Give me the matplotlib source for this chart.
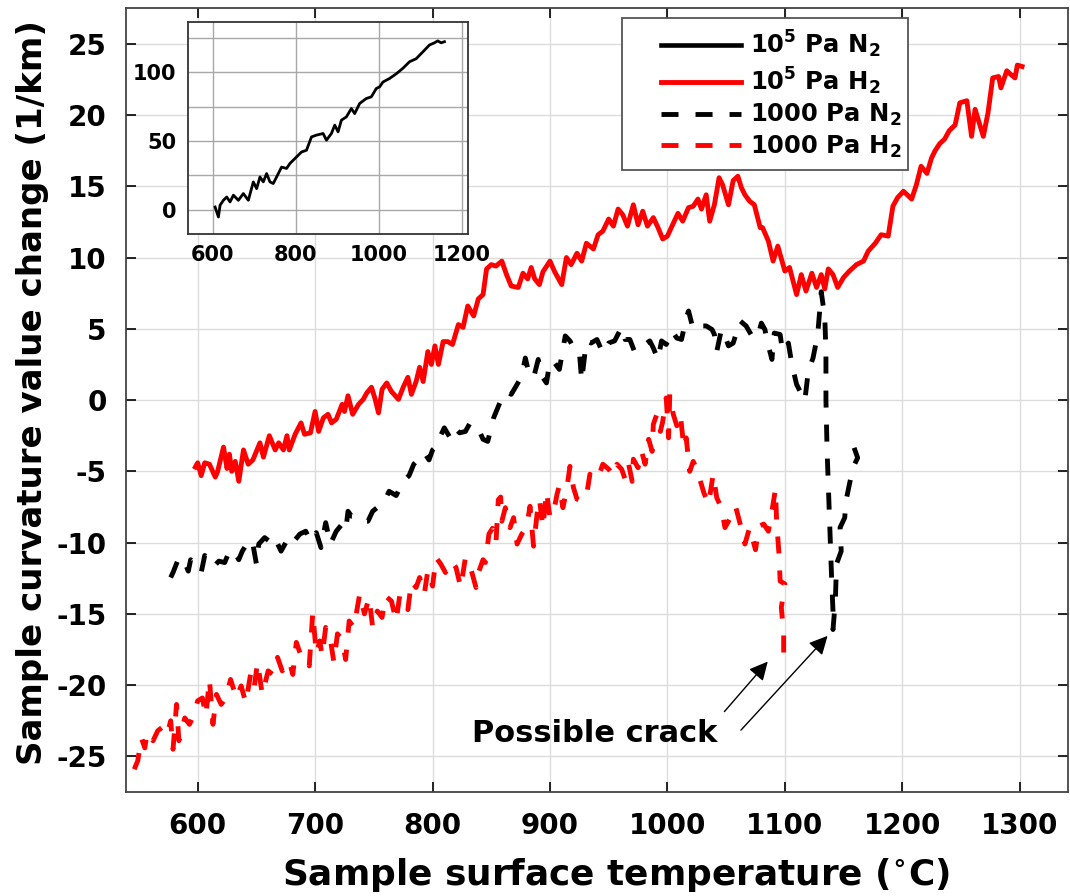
import numpy as np
import matplotlib.pyplot as plt
from matplotlib.patches import Rectangle

plt.rcParams['font.family'] = ['DejaVu Sans']
plt.rcParams['font.weight'] = 'bold'
plt.rcParams['axes.labelweight'] = 'bold'
plt.rcParams['mathtext.default'] = 'bf'
plt.rcParams['axes.unicode_minus'] = False

# 10^5 Pa H2 (solid red)
x_h2_hi = [598, 600, 603, 606, 610, 615, 617, 622, 625, 627,
           629, 632, 635, 639, 643, 647, 653, 656, 661, 666,
           669, 673, 676, 678, 683, 688, 691, 696, 700, 703,
           707, 711, 714, 718, 723, 725, 728, 732, 737, 741,
           744, 748, 751, 754, 757, 761, 765, 771, 775, 779,
           782, 786, 789, 792, 796, 799, 802, 805, 809, 813,
           817, 822, 826, 830, 835, 839, 843, 846, 850, 854,
           859, 863, 867, 873, 877, 881, 884, 887, 891, 894,
           900, 904, 910, 914, 918, 923, 927, 931, 937, 941,
           945, 950, 954, 958, 962, 966, 971, 975, 979, 983,
           988, 992, 996, 1000, 1005, 1009, 1013, 1018, 1022, 1026,
           1029, 1033, 1036, 1040, 1044, 1047, 1052, 1056, 1060, 1063,
           1066, 1070, 1074, 1079, 1081, 1086, 1090, 1094, 1100, 1104,
           1110, 1114, 1118, 1123, 1127, 1131, 1134, 1137, 1141, 1145,
           1150, 1155, 1161, 1167, 1171, 1177, 1182, 1188, 1192, 1196,
           1201, 1208, 1212, 1216, 1221, 1225, 1228, 1232, 1236, 1240,
           1245, 1249, 1255, 1259, 1262, 1266, 1269, 1273, 1277, 1282,
           1284, 1289, 1293, 1296, 1298, 1302]
y_h2_hi = [-4.7, -4.4, -5.3, -4.4, -4.5, -5.4, -5.0, -3.3, -4.8, -3.8,
           -5.0, -4.3, -5.7, -3.5, -4.5, -4.2, -3.0, -4.0, -2.5, -3.5,
           -3.0, -3.5, -2.5, -3.5, -2.4, -1.6, -2.4, -2.3, -0.8, -2.2,
           -1.25, -1.0, -1.6, -1.35, -0.3, -0.8, 0.3, -1.0, -0.3, 0.05,
           0.5, 0.9, 0.1, -0.9, 0.75, 1.2, 0.6, 0.05, 0.9, 1.6,
           0.4, 1.3, 2.3, 1.3, 3.4, 2.5, 3.8, 2.5, 4.1, 4.1,
           3.9, 5.3, 5.1, 6.6, 5.9, 7.1, 7.4, 9.2, 9.5, 9.4,
           9.75, 8.8, 8.0, 7.9, 8.9, 8.5, 9.3, 8.5, 8.1, 9.0,
           9.75, 9.0, 8.1, 10.0, 9.5, 10.3, 9.75, 11.0, 10.6, 11.6,
           11.85, 12.7, 12.2, 13.4, 13.0, 12.2, 13.7, 12.3, 13.25, 12.2,
           12.8, 12.1, 11.3, 11.5, 12.4, 13.1, 12.55, 13.5, 13.6, 14.1,
           13.4, 14.4, 12.55, 13.7, 15.6, 15.1, 13.7, 15.4, 15.7, 14.9,
           14.4, 13.95, 13.7, 12.1, 12.1, 11.15, 9.75, 10.8, 9.05, 9.3,
           7.4, 8.8, 7.65, 8.9, 7.9, 8.8, 7.8, 9.2, 8.8, 7.9,
           8.6, 9.05, 9.5, 9.75, 10.45, 11.0, 11.6, 11.5, 13.6, 14.2,
           14.65, 14.1, 15.1, 16.4, 15.9, 17.0, 17.5, 18.0, 18.3, 18.9,
           19.3, 20.85, 21.0, 18.5, 20.4, 19.3, 18.5, 20.15, 22.6, 22.7,
           21.9, 23.1, 22.8, 22.6, 23.5, 23.4]

# 1000 Pa N2 (dashed black)
x_n2_lo = [577, 579, 584, 589, 592, 594, 599, 603, 606, 610,
           614, 618, 623, 626, 630, 635, 638, 644, 647, 650,
           652, 657, 661, 665, 671, 675, 679, 682, 687, 692,
           696, 701, 705, 709, 713, 718, 722, 726, 728, 731,
           735, 740, 745, 749, 755, 759, 763, 769, 775, 780,
           784, 789, 793, 797, 800, 804, 806, 810, 815, 819,
           823, 828, 832, 836, 840, 843, 847, 852, 855, 859,
           863, 867, 872, 876, 879, 881, 886, 890, 893, 897,
           900, 904, 908, 913, 917, 921, 925, 927, 931, 935,
           940, 945, 950, 955, 961, 964, 968, 972, 977, 981,
           985, 988, 992, 995, 999, 1004, 1008, 1012, 1016, 1018,
           1022, 1028, 1033, 1038, 1040, 1042, 1046, 1049, 1052, 1056,
           1062, 1067, 1073, 1077, 1080, 1083, 1086, 1089, 1091, 1096,
           1098, 1103, 1106, 1110, 1113, 1117, 1120, 1124, 1128, 1131,
           1134, 1135, 1135, 1136, 1137, 1138, 1139, 1140, 1141, 1141,
           1143, 1144, 1148, 1147, 1151, 1152, 1155, 1158, 1162, 1159]
y_n2_lo = [-12.45, -12.1, -11.05, -11.4, -12.0, -11.2, -11.65, -12.1, -10.9, -11.5,
           -11.65, -11.3, -11.4, -10.8, -10.5, -11.2, -10.6, -9.8, -10.1, -11.5,
           -10.1, -9.65, -9.9, -9.55, -10.6, -10.0, -10.35, -9.9, -9.4, -9.2,
           -9.9, -9.3, -10.35, -8.6, -10.1, -9.2, -8.8, -9.2, -7.8, -8.15,
           -8.15, -8.5, -8.5, -7.8, -7.4, -7.1, -6.4, -6.7, -5.7, -5.3,
           -4.5, -4.05, -3.7, -4.2, -3.5, -3.2, -2.65, -1.95, -2.65, -1.95,
           -2.3, -2.2, -1.6, -1.95, -2.2, -2.75, -2.9, -1.25, -0.65, 0.15,
           0.6, 0.4, 1.1, 1.7, 2.95, 2.25, 1.55, 2.85, 1.7, 1.2,
           2.75, 2.6, 2.15, 4.5, 4.15, 3.55, 3.4, 1.35, 4.15, 4.0,
           4.25, 3.3, 4.0, 4.15, 5.1, 4.25, 4.25, 3.4, 3.8, 3.9,
           4.15, 3.65, 2.85, 4.15, 3.9, 4.85, 4.35, 4.25, 5.75, 6.25,
           4.95, 5.2, 5.2, 4.95, 4.6, 3.4, 4.95, 4.5, 3.8, 4.0,
           5.55, 5.2, 4.35, 4.5, 5.4, 4.95, 3.8, 2.85, 4.7, 4.6,
           3.4, 4.0, 2.5, 1.1, 0.6, -0.05, 2.05, 2.95, 4.6, 7.6,
           5.8, 3.4, -0.05, -3.6, -5.9, -8.25, -10.6, -12.9, -14.8, -16.1,
           -14.1, -11.5, -10.6, -8.95, -8.25, -7.1, -5.9, -4.75, -4.05, -3.35]

# 1000 Pa H2 (dashed red)
x_h2_lo = [546, 549, 552, 555, 557, 562, 566, 570, 574, 577,
           579, 582, 584, 589, 593, 597, 600, 604, 607, 610,
           613, 616, 620, 624, 628, 633, 637, 641, 645, 648,
           651, 655, 660, 664, 668, 672, 678, 681, 684, 688,
           692, 695, 698, 701, 704, 706, 709, 713, 716, 719,
           723, 726, 729, 733, 738, 742, 746, 749, 753, 757,
           760, 765, 769, 772, 776, 779, 782, 786, 789, 793,
           796, 800, 803, 807, 811, 816, 820, 824, 828, 833,
           837, 838, 843, 845, 848, 851, 854, 856, 858, 859,
           862, 866, 869, 872, 876, 880, 883, 886, 889, 891,
           894, 897, 900, 903, 906, 908, 911, 914, 917, 920,
           923, 927, 931, 934, 937, 941, 945, 950, 954, 957,
           961, 964, 967, 970, 971, 975, 978, 981, 984, 987,
           988, 991, 994, 996, 999, 1001, 1002, 1005, 1008, 1011,
           1014, 1016, 1019, 1022, 1026, 1031, 1035, 1039, 1042, 1046,
           1049, 1053, 1058, 1062, 1066, 1070, 1075, 1078, 1082, 1086,
           1089, 1092, 1093, 1095, 1096, 1100, 1097, 1099, 1099]
y_h2_lo = [-25.9, -25.3, -23.7, -24.4, -23.3, -23.9, -23.2, -22.95, -23.45, -22.5,
           -24.5, -21.35, -23.9, -22.3, -22.75, -22.05, -21.1, -20.9, -22.15, -19.6,
           -22.75, -20.65, -21.35, -20.9, -19.6, -20.9, -20.05, -21.25, -19.25, -20.2,
           -18.4, -20.65, -19.0, -19.25, -18.05, -19.0, -18.3, -19.25, -17.0, -17.95,
           -18.05, -18.65, -14.9, -17.8, -16.9, -17.95, -15.95, -16.8, -18.4, -16.4,
           -16.8, -18.2, -15.5, -15.95, -13.6, -15.0, -13.85, -15.95, -14.8, -15.25,
           -13.75, -14.1, -15.5, -13.75, -13.85, -14.7, -12.7, -13.15, -12.45, -13.6,
           -11.95, -13.05, -11.05, -11.5, -12.1, -11.3, -11.75, -13.15, -11.05, -11.95,
           -13.15, -12.35, -11.2, -11.4, -9.4, -9.0, -10.0, -7.0, -6.8, -8.5,
           -7.55, -8.95, -8.25, -10.1, -9.4, -8.95, -7.45, -10.25, -8.0, -6.95,
           -8.95, -6.4, -8.25, -7.9, -6.6, -6.0, -7.55, -6.4, -4.65, -6.15,
           -6.95, -7.1, -6.75, -5.2, -5.55, -5.45, -4.5, -4.85, -5.3, -4.5,
           -4.85, -5.55, -4.5, -5.7, -4.15, -4.75, -3.6, -4.5, -2.75, -3.6,
           -1.7, -1.0, -2.2, -1.5, 0.15, -2.65, 0.4, -1.0, -1.8, -1.0,
           -3.35, -2.65, -5.0, -4.3, -5.1, -6.5, -7.3, -5.2, -6.85, -7.55,
           -8.95, -8.35, -7.45, -8.7, -10.1, -8.95, -10.5, -8.85, -8.7, -9.2,
           -7.8, -6.25, -8.5, -10.8, -12.7, -12.9, -14.55, -16.4, -17.8]

# 10^5 Pa N2 (inset)
x_n2_hi = [606, 614, 618, 626, 634, 642, 650, 662, 674, 686,
           698, 706, 714, 722, 730, 738, 746, 754, 766, 778,
           786, 794, 802, 814, 826, 838, 850, 866, 874, 886,
           894, 902, 910, 922, 934, 942, 954, 970, 982, 994,
           1002, 1010, 1026, 1042, 1058, 1074, 1090, 1106, 1122, 1134,
           1142, 1150, 1158]
y_n2_hi = [1.9, -5.4, 3.2, 6.8, 9.2, 5.6, 10.5, 6.8, 11.7, 6.8,
           20.2, 15.3, 23.8, 20.2, 26.3, 20.2, 19.0, 23.8, 31.0, 30.0,
           33.6, 36.0, 38.4, 42.0, 43.3, 53.0, 54.3, 55.5, 50.6, 55.5,
           61.6, 56.7, 65.2, 67.6, 73.7, 70.0, 77.4, 81.0, 82.2, 88.3,
           89.5, 93.0, 95.6, 99.0, 103.0, 107.8, 110.0, 115.0, 120.0, 121.6,
           123.0, 121.6, 122.4]

labels = ['10$^{5}$ Pa N$_{2}$', '10$^{5}$ Pa H$_{2}$',
          '1000 Pa N$_{2}$', '1000 Pa H$_{2}$']

fig = plt.figure(figsize=(10.7, 8.96), dpi=100)
ax = fig.add_axes([0.1178, 0.116, 0.8802, 0.875])

dash = (3.5, 3.5)
ax.plot([], [], color='k', lw=3.3, label=labels[0])
ax.plot(x_h2_hi, y_h2_hi, color='#ff0000', lw=3.5, label=labels[1])
ax.plot(x_n2_lo, y_n2_lo, color='k', lw=3.5, ls='--', dashes=dash, label=labels[2])
ax.plot(x_h2_lo, y_h2_lo, color='#ff0000', lw=3.5, ls='--', dashes=dash, label=labels[3])

ax.set_xlim(539, 1341)
ax.set_ylim(-27.5, 27.5)
ax.set_xticks(np.arange(600, 1301, 100))
ax.set_yticks(np.arange(-25, 26, 5))
ax.grid(True, color='#dcdcdc', lw=1)
ax.set_axisbelow(True)
ax.tick_params(direction='in', top=True, right=True, length=7, width=1.2,
               labelsize=20, pad=14)
for s in ax.spines.values():
    s.set_color('#444444')
    s.set_linewidth(1.3)
ax.set_xlabel('Sample surface temperature ($^{\\circ}$C)', fontsize=25.8)
ax.xaxis.set_label_coords(0.52, -0.082)
ax.set_ylabel('Sample curvature value change (1/km)', fontsize=24.5)
ax.yaxis.set_label_coords(-0.082, 0.51)

# legend box drawn separately so the handles sit where they do in the original
box = Rectangle((0.5813, 0.8103), 0.2673, 0.1696, transform=fig.transFigure,
                facecolor='white', edgecolor='#555555', lw=1.3, zorder=4.9,
                clip_on=False)
ax.add_patch(box)
leg = ax.legend(loc='upper left', bbox_to_anchor=(0.6178, 0.968),
                bbox_transform=fig.transFigure, fontsize=17.5, handlelength=3.3,
                frameon=False, borderaxespad=0, borderpad=0, labelspacing=0.22,
                handletextpad=0.35)

# possible crack annotation
ax.text(938, -23.4, 'Possible crack', fontsize=22, ha='center', va='center')
arrow = dict(arrowstyle='-|>', color='k', lw=1, mutation_scale=28)
ax.annotate('', xy=(1087, -18.2), xytext=(1047, -22.0), arrowprops=arrow)
ax.annotate('', xy=(1138, -16.4), xytext=(1061, -23.3), arrowprops=arrow)

# inset
axi = fig.add_axes([0.1754, 0.7385, 0.2617, 0.2373])
axi.plot(x_n2_hi, y_n2_hi, color='k', lw=2)
axi.set_xlim(540, 1214)
axi.set_ylim(-18, 137)
axi.set_xticks([600, 800, 1000, 1200])
axi.set_yticks([0, 25, 50, 75, 100, 125])
axi.set_yticklabels(['0', '', '50', '', '100', ''])
axi.grid(True, color='#a8a8a8', lw=1)
axi.tick_params(direction='in', length=0, labelsize=15, pad=8)
for s in axi.spines.values():
    s.set_color('#333333')
    s.set_linewidth(1.3)

fig.savefig('out.png', dpi=100)
